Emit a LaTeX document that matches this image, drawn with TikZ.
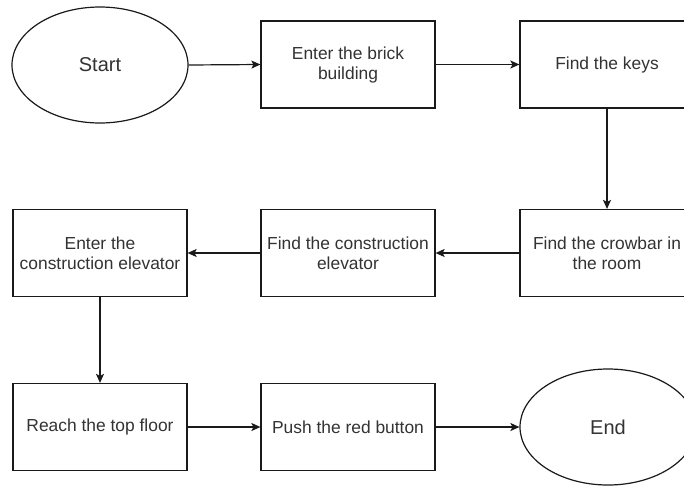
\documentclass[tikz,border=0pt]{standalone}
\usepackage{fontspec}
\setmainfont{Liberation Sans}
\usetikzlibrary{shapes.geometric,arrows.meta}
\definecolor{ink}{HTML}{1A1A1A}
\definecolor{txt}{HTML}{333333}
\tikzset{
  base/.style={draw=ink, line width=1.2pt, text=txt, inner sep=2pt, align=center},
  stepbox/.style={base, rectangle, minimum width=174pt, minimum height=87pt,
    font=\fontsize{17.4pt}{20pt}\selectfont},
  terminal/.style={base, ellipse, minimum width=176pt, minimum height=116pt,
    font=\fontsize{20pt}{23pt}\selectfont},
  flow/.style={draw=ink, line width=1.2pt, -{Stealth[length=9pt,width=8pt,inset=2pt]}}
}
\begin{document}
\begin{tikzpicture}[x=1pt,y=-1pt]
  \useasboundingbox (0,0) rectangle (684,485);
  \clip (0,0) rectangle (684,485);
  \fill[white] (0,0) rectangle (684,485);

  % first row
  \node[terminal] (start) at (100,65) {Start};
  \node[stepbox] (brick) at (348,64.5) {Enter the brick\\building};
  \node[stepbox] (keys) at (607,64.5) {Find the keys};

  % second row
  \node[stepbox] (crowbar) at (607,253) {Find the crowbar in\\the room};
  \node[stepbox] (findce) at (348,253) {Find the construction\\elevator};
  \node[stepbox] (enterce) at (100,253) {Enter the\\construction elevator};

  % third row
  \node[stepbox] (reach) at (100,427) {Reach the top floor};
  \node[stepbox] (push) at (348,427) {Push the red button};
  \node[terminal] (end) at (608,427) {End};

  % connectors
  \draw[flow] (start.east) -- (brick.west);
  \draw[flow] (brick.east) -- (keys.west);
  \draw[flow] (keys.south) -- (crowbar.north);
  \draw[flow] (crowbar.west) -- (findce.east);
  \draw[flow] (findce.west) -- (enterce.east);
  \draw[flow] (enterce.south) -- (reach.north);
  \draw[flow] (reach.east) -- (push.west);
  \draw[flow] (push.east) -- (end.west);
\end{tikzpicture}
\end{document}
